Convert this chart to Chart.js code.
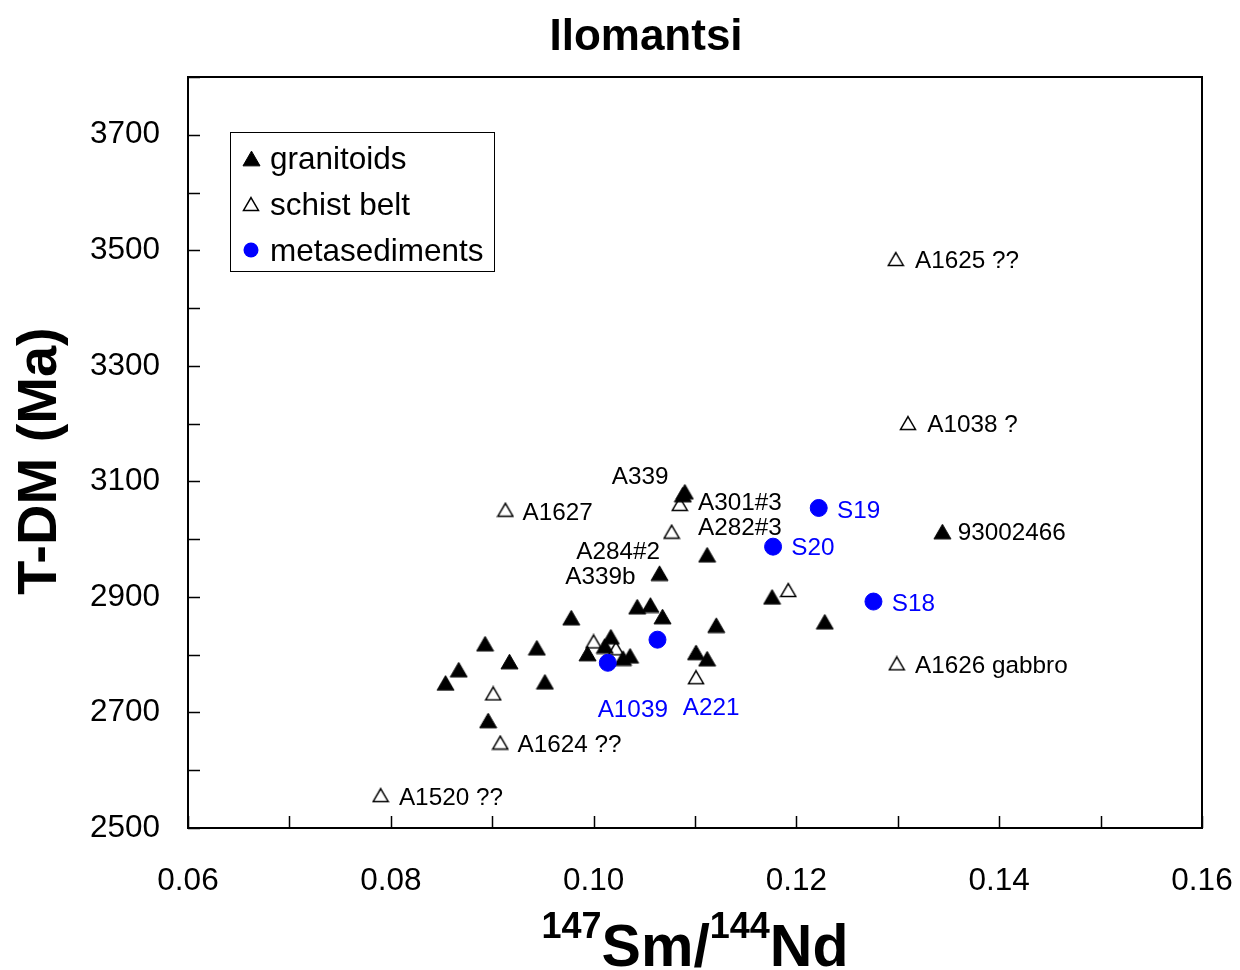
<!DOCTYPE html>
<html>
<head>
<meta charset="utf-8">
<title>Ilomantsi</title>
<script src="https://cdn.jsdelivr.net/npm/chart.js@4.4.1/dist/chart.umd.min.js"></script>
<style>
  html, body { margin: 0; padding: 0; background: #fff; }
  #chart { display: block; }
</style>
</head>
<body>
<canvas id="chart" width="1240" height="970"></canvas>
<script>
// ---- values ----
const granitoidX = [0.0854, 0.0867, 0.0893, 0.0896, 0.0917, 0.0944, 0.0952, 0.0978, 0.0994, 0.1011,
                    0.1017, 0.1029, 0.1036, 0.1043, 0.1056, 0.1068, 0.1065, 0.1112, 0.1088, 0.1090,
                    0.1101, 0.1112, 0.1121, 0.1176, 0.1228, 0.1344];
const granitoidY = [2751, 2774, 2819, 2686, 2788, 2812, 2753, 2864, 2802, 2815,
                    2831, 2794, 2798, 2883, 2886, 2866, 2941, 2973, 3077, 3082,
                    2804, 2793, 2851, 2900, 2857, 3013];

const schistX = [0.1298, 0.1310, 0.0913, 0.1085, 0.1077, 0.1192, 0.1299, 0.1000, 0.1022, 0.1101,
                 0.0901, 0.0908, 0.0790];
const schistY = [3485, 3201, 3051, 3061, 3013, 2912, 2785, 2823, 2811, 2761,
                 2733, 2648, 2557];

const metasedX = [0.1222, 0.1177, 0.1276, 0.1014, 0.1063];
const metasedY = [3054, 2987, 2892, 2786, 2826];

// sample names, anchored at their left edge (data units)
const blackLabels = ['A1625 ??', 'A1038 ?', 'A1627', 'A339', 'A301#3', 'A282#3', 'A284#2', 'A339b',
                     '93002466', 'A1626 gabbro', 'A1624 ??', 'A1520 ??'];
const blackLabelX = [0.1317, 0.1329, 0.0930, 0.1018, 0.1103, 0.1103, 0.0983, 0.0972,
                     0.1359, 0.1317, 0.0925, 0.0808];
const blackLabelY = [3484, 3200, 3049, 3110, 3065, 3023, 2981, 2937,
                     3013, 2784, 2647, 2555];

const blueLabels = ['S19', 'S20', 'S18', 'A1039', 'A221'];
const blueLabelX = [0.1240, 0.1195, 0.1294, 0.1004, 0.1088];
const blueLabelY = [3052, 2987, 2890, 2708, 2711];

const xTicksLabelled = [0.06, 0.08, 0.10, 0.12, 0.14, 0.16];
const yTicksLabelled = [2500, 2700, 2900, 3100, 3300, 3500, 3700];

const FONT = "'Liberation Sans', Arial, sans-serif";

const toPoints = (xs, ys) => xs.map((x, i) => ({ x: x, y: ys[i] }));

// triangle marker centred on its bounding box, like the spreadsheet markers
const makeTriangle = (side, fill, stroke, lw) => {
    const h = side * Math.sqrt(3) / 2;
    const c = document.createElement('canvas');
    c.width = Math.ceil(side + lw * 2);
    c.height = Math.ceil(h + lw * 2);
    const g = c.getContext('2d');
    const cx = c.width / 2;
    const top = (c.height - h) / 2;
    g.beginPath();
    g.moveTo(cx, top);
    g.lineTo(cx + side / 2, top + h);
    g.lineTo(cx - side / 2, top + h);
    g.closePath();
    g.fillStyle = fill;
    g.fill();
    g.lineWidth = lw;
    g.strokeStyle = stroke;
    g.stroke();
    return c;
};

const filledTriangle = makeTriangle(17, '#000', '#000', 1);
const openTriangle = makeTriangle(15, '#fff', '#000', 1.5);

// frame, inward ticks, sample names, legend and titles
const decorations = {
    id: 'decorations',
    afterDraw(chart) {
        const { ctx, chartArea: a, scales: { x, y } } = chart;
        ctx.save();

        // plot frame
        ctx.strokeStyle = '#000';
        ctx.lineWidth = 2;
        ctx.strokeRect(a.left, a.top, a.right - a.left, a.bottom - a.top);

        // ticks pointing inwards
        ctx.lineWidth = 1.5;
        ctx.beginPath();
        x.ticks.forEach(t => {
            const px = Math.round(x.getPixelForValue(t.value)) + 0.5;
            ctx.moveTo(px, a.bottom);
            ctx.lineTo(px, a.bottom - 12);
        });
        y.ticks.forEach(t => {
            const py = Math.round(y.getPixelForValue(t.value)) + 0.5;
            ctx.moveTo(a.left, py);
            ctx.lineTo(a.left + 12, py);
        });
        ctx.stroke();

        // sample names
        ctx.font = '24.3px ' + FONT;
        ctx.textAlign = 'left';
        ctx.textBaseline = 'middle';
        ctx.fillStyle = '#000';
        blackLabels.forEach((txt, i) => {
            ctx.fillText(txt, x.getPixelForValue(blackLabelX[i]), y.getPixelForValue(blackLabelY[i]) + 2);
        });
        ctx.fillStyle = '#0000ff';
        blueLabels.forEach((txt, i) => {
            ctx.fillText(txt, x.getPixelForValue(blueLabelX[i]), y.getPixelForValue(blueLabelY[i]) + 2);
        });

        // legend box
        ctx.strokeStyle = '#000';
        ctx.lineWidth = 1;
        ctx.fillStyle = '#fff';
        ctx.fillRect(230, 132, 264, 139);
        ctx.strokeRect(230.5, 132.5, 264, 139);
        ctx.font = '31.5px ' + FONT;
        ctx.textBaseline = 'middle';
        chart.data.datasets.forEach((ds, i) => {
            const cy = 158 + i * 46;
            const cx = 251;
            if (typeof ds.pointStyle === 'object') {
                const img = ds.pointStyle;
                ctx.drawImage(img, Math.round(cx - img.width / 2), Math.round(cy - img.height / 2));
            } else {
                ctx.beginPath();
                ctx.arc(cx, cy, 7.5, 0, Math.PI * 2);
                ctx.fillStyle = ds.backgroundColor;
                ctx.fill();
            }
            ctx.fillStyle = '#000';
            ctx.fillText(ds.label, 270, cy + 2);
        });

        // chart title
        ctx.fillStyle = '#000';
        ctx.textAlign = 'center';
        ctx.textBaseline = 'alphabetic';
        ctx.font = 'bold 44px ' + FONT;
        ctx.fillText('Ilomantsi', 646, 50);

        // x axis title with superscripts
        const big = 'bold 59px ' + FONT;
        const small = 'bold 36px ' + FONT;
        const parts = [['147', small, -28], ['Sm/', big, 0], ['144', small, -28], ['Nd', big, 0]];
        let total = 0;
        parts.forEach(p => { ctx.font = p[1]; total += ctx.measureText(p[0]).width; });
        let px = (a.left + a.right) / 2 - total / 2;
        ctx.textAlign = 'left';
        parts.forEach(p => {
            ctx.font = p[1];
            ctx.fillText(p[0], px, 966 + p[2]);
            px += ctx.measureText(p[0]).width;
        });

        // y axis title
        ctx.translate(41, 461);
        ctx.rotate(-Math.PI / 2);
        ctx.textAlign = 'center';
        ctx.textBaseline = 'middle';
        ctx.font = 'bold 56px ' + FONT;
        ctx.fillText('T-DM (Ma)', 0, 0);

        ctx.restore();
    }
};

new Chart(document.getElementById('chart'), {
    type: 'scatter',
    data: {
        datasets: [
            {
                label: 'granitoids',
                data: toPoints(granitoidX, granitoidY),
                pointStyle: filledTriangle,
                backgroundColor: '#000',
                borderColor: '#000',
                order: 2
            },
            {
                label: 'schist belt',
                data: toPoints(schistX, schistY),
                pointStyle: openTriangle,
                backgroundColor: '#fff',
                borderColor: '#000',
                order: 3
            },
            {
                label: 'metasediments',
                data: toPoints(metasedX, metasedY),
                pointStyle: 'circle',
                pointRadius: 8.5,
                pointHoverRadius: 8.5,
                backgroundColor: '#0000ff',
                borderColor: '#0000ff',
                borderWidth: 1,
                order: 1
            }
        ]
    },
    options: {
        responsive: false,
        animation: false,
        devicePixelRatio: 1,
        layout: { padding: { top: 77, right: 38, left: 0, bottom: 0 } },
        plugins: {
            legend: { display: false },
            title: { display: false },
            tooltip: { enabled: false }
        },
        scales: {
            x: {
                type: 'linear',
                min: 0.06,
                max: 0.16,
                grid: { display: false, drawTicks: false },
                border: { display: false },
                ticks: {
                    stepSize: 0.01,
                    padding: 34,
                    color: '#000',
                    font: { family: FONT, size: 31.5 },
                    callback: (v) => xTicksLabelled.some(t => Math.abs(t - v) < 1e-6) ? v.toFixed(2) : ''
                },
                afterFit: (scale) => {
                    scale.height = 142;
                    scale.paddingLeft = 0;
                    scale.paddingRight = 0;
                }
            },
            y: {
                min: 2500,
                max: 3800,
                grid: { display: false, drawTicks: false },
                border: { display: false },
                ticks: {
                    stepSize: 100,
                    padding: 28,
                    color: '#000',
                    font: { family: FONT, size: 31.5 },
                    callback: (v) => yTicksLabelled.includes(v) ? String(v) : ''
                },
                afterFit: (scale) => {
                    scale.width = 188;
                    scale.paddingTop = 0;
                    scale.paddingBottom = 0;
                }
            }
        }
    },
    plugins: [decorations]
});
</script>
</body>
</html>
